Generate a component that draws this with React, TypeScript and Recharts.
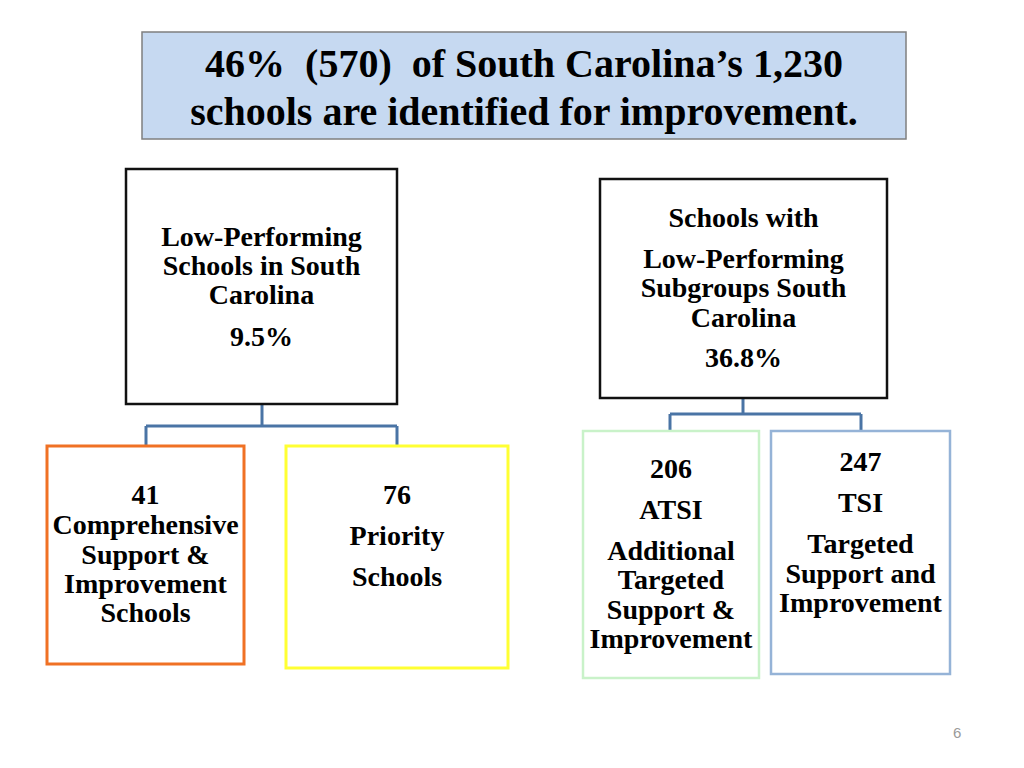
import React from "react"
import { ReferenceLine, Scatter, ScatterChart, XAxis, YAxis } from "recharts"

// headline numbers
const identifiedPct = 46
const identifiedCount = 570
const totalSchools = 1230

// the two parent groups
const groupNames = ["Low-Performing Schools in South Carolina", "Schools with Low-Performing Subgroups South Carolina"]
const groupPcts = [9.5, 36.8]

// the four designations
const designationCounts = [41, 76, 206, 247]
const designationAbbr = ["", "", "ATSI", "TSI"]
const designationNames = [
    "Comprehensive Support & Improvement Schools",
    "Priority Schools",
    "Additional Targeted Support & Improvement",
    "Targeted Support and Improvement",
]

const W = 1024
const H = 768
const FONT = "'Liberation Serif', 'Times New Roman', serif"
const LINK = "#4a74a5"

interface Box {
    x: number
    y: number
    w: number
    h: number
    stroke: string
    sw: number
    fill: string
    size: number
    lines: string[]
    offsets: number[]
}

const fmt = (n: number) => n.toLocaleString("en-US")

const boxes: Box[] = [
    {
        x: 524, y: 85.5, w: 764, h: 107, stroke: "#7f7f7f", sw: 1.5, fill: "#c6d9f1", size: 40,
        lines: [`${identifiedPct}%  (${identifiedCount})  of South Carolina’s ${fmt(totalSchools)}`, "schools are identified for improvement."],
        offsets: [-8.5, 39.5],
    },
    {
        x: 261.5, y: 286.5, w: 271, h: 235, stroke: "#111111", sw: 2.5, fill: "#ffffff", size: 28,
        lines: ["Low-Performing", "Schools in South", "Carolina", `${groupPcts[0]}%`],
        offsets: [-40.5, -11.5, 17.5, 59.5],
    },
    {
        x: 743.5, y: 288.5, w: 287, h: 219, stroke: "#111111", sw: 2.5, fill: "#ffffff", size: 28,
        lines: ["Schools with", "Low-Performing", "Subgroups South", "Carolina", `${groupPcts[1]}%`],
        offsets: [-61.5, -20.5, 8.5, 38.5, 78.5],
    },
    {
        x: 145.5, y: 555, w: 197, h: 218, stroke: "#f07124", sw: 3, fill: "#ffffff", size: 28,
        lines: [`${designationCounts[0]}`, "Comprehensive", "Support &", "Improvement", "Schools"],
        offsets: [-51, -21, 9, 38, 67],
    },
    {
        x: 397, y: 557, w: 222, h: 222, stroke: "#ffff33", sw: 3, fill: "#ffffff", size: 28,
        lines: [`${designationCounts[1]}`, "Priority", "Schools"],
        offsets: [-53, -12, 29],
    },
    {
        x: 671, y: 554.5, w: 176, h: 247, stroke: "#c9f2c9", sw: 2.5, fill: "#ffffff", size: 28,
        lines: [`${designationCounts[2]}`, designationAbbr[2], "Additional", "Targeted", "Support &", "Improvement"],
        offsets: [-76.5, -35.5, 5.5, 34.5, 64.5, 93.5],
    },
    {
        x: 860.5, y: 552.5, w: 179, h: 243, stroke: "#95b3d7", sw: 2.5, fill: "#ffffff", size: 28,
        lines: [`${designationCounts[3]}`, designationAbbr[3], "Targeted", "Support and", "Improvement"],
        offsets: [-81.5, -40.5, 0.5, 30.5, 59.5],
    },
]

// elbow connectors parent -> children
const links: [number, number, number, number][] = [
    [262, 404, 262, 426],
    [146, 426, 397, 426],
    [146, 426, 146, 446],
    [397, 426, 397, 446],
    [743, 398, 743, 414],
    [670, 414, 861, 414],
    [670, 414, 670, 431],
    [861, 414, 861, 431],
]

const BoxShape = (props: any) => {
    const { cx, cy, payload } = props
    const b = payload as Box
    return (
        <g>
            <rect x={cx - b.w / 2} y={cy - b.h / 2} width={b.w} height={b.h} fill={b.fill} stroke={b.stroke} strokeWidth={b.sw} />
            {b.lines.map((t, i) => (
                <text
                    key={i}
                    x={cx}
                    y={cy + b.offsets[i]}
                    textAnchor="middle"
                    fontFamily={FONT}
                    fontWeight="bold"
                    fontSize={b.size}
                    fill="#000"
                    style={{ whiteSpace: "pre" }}
                >
                    {t}
                </text>
            ))}
        </g>
    )
}

export default function App() {
    return (
        <div style={{ position: "absolute", left: 0, top: 0, width: W, height: H, background: "#fff" }}>
            <ScatterChart width={W} height={H} margin={{ top: 0, right: 0, bottom: 0, left: 0 }}>
                <XAxis type="number" dataKey="x" domain={[0, W]} hide />
                <YAxis type="number" dataKey="y" domain={[0, H]} reversed hide />
                {links.map((l, i) => (
                    <ReferenceLine
                        key={i}
                        segment={[{ x: l[0], y: l[1] }, { x: l[2], y: l[3] }]}
                        stroke={LINK}
                        strokeWidth={3}
                    />
                ))}
                <Scatter data={boxes} shape={BoxShape} isAnimationActive={false} />
            </ScatterChart>
            <div
                title={groupNames.join(" / ") + " — " + designationNames.join(", ")}
                style={{ position: "absolute", left: 953, top: 724, fontFamily: "'Liberation Sans', sans-serif", fontSize: 15, color: "#9a9a9a" }}
            >
                6
            </div>
        </div>
    )
}
